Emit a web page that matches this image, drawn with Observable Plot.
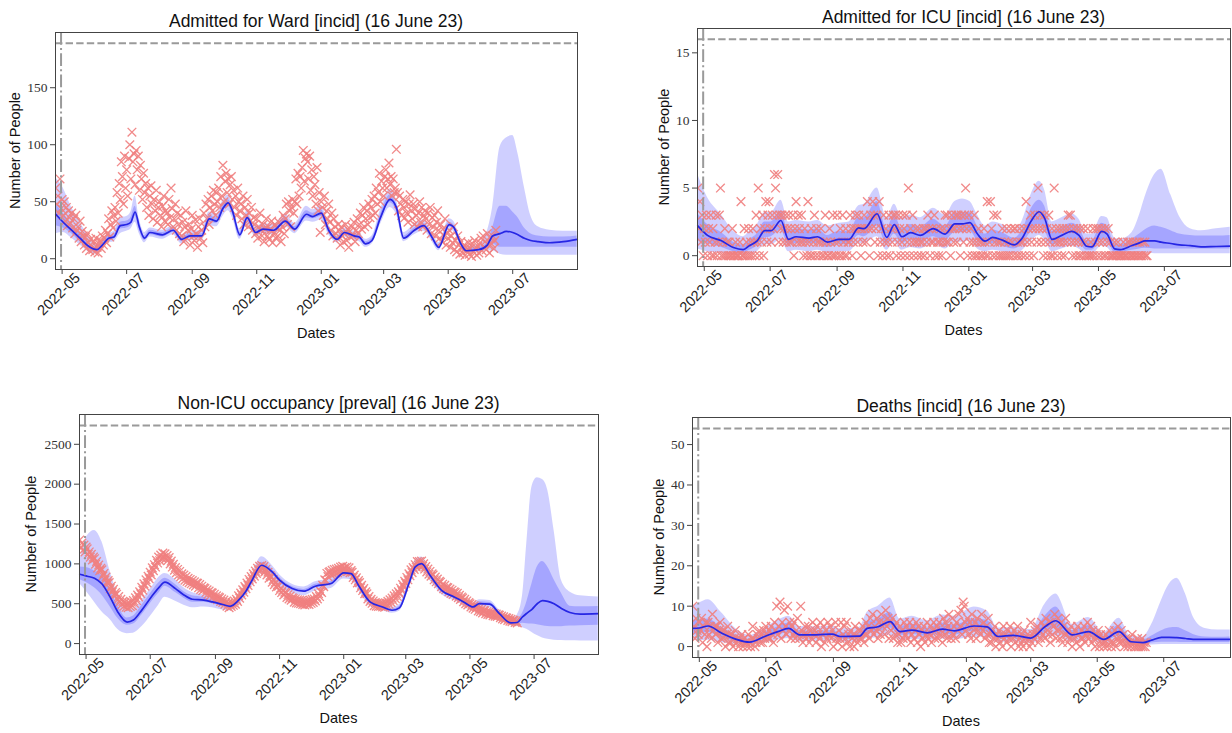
<!DOCTYPE html>
<html>
<head>
<meta charset="utf-8">
<script src="https://cdn.jsdelivr.net/npm/d3@7"></script>
<script src="https://cdn.jsdelivr.net/npm/@observablehq/plot@0.6"></script>
<style>
  html, body { margin: 0; padding: 0; background: #fff; }
  body { width: 1232px; height: 733px; position: relative; overflow: hidden; }
  .panel { position: absolute; }
</style>
</head>
<body>
<div id="p1" class="panel" style="left:0px;top:0px"></div>
<div id="p2" class="panel" style="left:616px;top:0px"></div>
<div id="p3" class="panel" style="left:0px;top:366px"></div>
<div id="p4" class="panel" style="left:616px;top:366px"></div>
<script>
// ---------------- shared axis data ----------------
const obsStart = "2022-04-25";          // first observed day (daily series)
const interventionDate = "2022-04-30";  // vertical dash-dot line
const xDomainDates = ["2022-04-24T18:00Z", "2023-08-31T06:00Z"];
const xTickDates = ["2022-05-01","2022-07-01","2022-09-01","2022-11-01","2023-01-01","2023-03-01","2023-05-01","2023-07-01"];
const xTickLabels = ["2022-05","2022-07","2022-09","2022-11","2023-01","2023-03","2023-05","2023-07"];

// ---------------- Admitted for Ward ----------------
const wardCap = 189;
const wardYTicks = [0, 50, 100, 150];
const wardObs = [
62,48,55,40,70,44,52, 38,50,33,45,29,42,36, 31,40,27,35,22,38,25, 28,18,33,15,24,20,12,
19,9,22,14,7,17,11, 8,15,6,18,10,5,13, 16,9,20,12,18,25,14, 22,35,19,30,42,27,38,
45,33,58,40,66,52,85, 72,48,90,62,78,55,88, 100,70,111,85,92,65,95, 78,90,60,82,70,52,75,
58,66,45,62,38,55,64, 48,35,52,42,60,32,45, 50,38,28,46,55,33,42, 40,30,52,36,62,44,28,
35,48,25,40,30,22,38, 20,32,15,28,42,18,25, 30,12,26,38,20,16,34, 22,10,28,35,18,25,14,
40,28,48,35,52,30,45, 55,42,60,48,38,58,50, 62,45,72,55,82,50,68, 75,58,70,48,65,72,52,
60,45,55,38,62,50,42, 48,35,55,30,45,38,52, 28,40,33,45,25,36,30, 22,35,18,28,40,25,20,
30,15,26,35,20,28,17, 25,33,14,22,30,18,27, 20,32,25,15,28,38,22, 35,48,30,50,42,28,45,
52,40,50,70,48,75,55, 72,62,80,95,68,88,92, 85,70,90,60,78,55,72, 65,48,80,42,58,23,50,
45,38,55,30,42,35,48, 32,25,40,20,35,28,22, 18,30,25,12,28,20,15, 22,30,16,26,10,24,19,
28,20,32,15,25,35,22, 30,40,26,38,45,28,35, 42,30,48,36,45,52,38, 55,40,62,48,58,75,50,
68,62,55,72,78,62,70, 84,65,72,55,70,58,62, 96,58,42,55,48,38,52, 45,36,50,40,32,48,56,
42,35,48,30,44,38,28, 40,50,32,45,28,38,42, 35,25,40,30,45,22,36, 28,38,20,32,42,25,18,
30,15,26,20,35,12,22, 18,25,10,20,14,28,8, 16,6,20,12,4,15,9, 5,12,3,10,7,14,4,
9,2,13,6,16,8,3, 11,5,14,18,7,20,10, 15,8,22,12,5,18,13, 20,9,16,25];
const wardDates = ["2022-04-25","2022-05-02","2022-05-10","2022-05-18","2022-05-26","2022-06-03","2022-06-08","2022-06-14","2022-06-19","2022-06-25",
"2022-07-01","2022-07-05","2022-07-09","2022-07-13","2022-07-18","2022-07-23","2022-08-04","2022-08-14","2022-08-22","2022-08-30",
"2022-09-10","2022-09-17","2022-09-24","2022-09-30","2022-10-05","2022-10-09","2022-10-16","2022-10-23","2022-10-31","2022-11-07",
"2022-11-17","2022-11-28","2022-12-07","2022-12-18","2022-12-24","2023-01-01","2023-01-08","2023-01-16","2023-01-23","2023-02-01",
"2023-02-06","2023-02-12","2023-02-18","2023-02-26","2023-03-07","2023-03-13","2023-03-20","2023-03-30","2023-04-08","2023-04-15",
"2023-04-22","2023-05-02","2023-05-06","2023-05-13","2023-05-18","2023-05-30","2023-06-07","2023-06-12","2023-06-19","2023-06-25",
"2023-07-01","2023-07-06","2023-07-12","2023-07-18","2023-07-25","2023-08-05","2023-08-18","2023-08-31"];
const wardMed  = [39,32,25,18,11,8,12,18,19,29, 30,32,41,28,18,23,21,25,17,20, 20,35,33,44,49,42,21,36,23,26, 25,33,26,39,37,40,25,17,23,20, 19,13,16,36,52,45,18,25,29,20, 10,30,28,13,7,8,12,20,22,24, 23,21,18,16,15,14,15,17];
const wardLo90 = [22,23,18,12,6,4,8,14,15,22, 24,26,32,22,14,19,17,21,13,16, 16,29,28,37,42,36,17,30,19,22, 21,28,22,33,32,34,21,14,19,16, 15,10,13,30,45,39,15,21,24,16, 7,25,24,10,5,5,7,7,4,3, 3,3,3,3,3,3,3,3];
const wardLo50 = [29,27,22,15,9,6,10,16,17,26, 27,29,37,25,16,21,19,23,15,18, 18,32,31,41,46,39,19,33,21,24, 23,31,24,36,35,37,23,16,21,18, 17,12,15,33,49,42,17,23,27,18, 9,28,26,12,6,7,10,13,10,10, 10,10,10,10,10,10,10,10];
const wardHi50 = [48,40,30,22,14,10,14,20,21,32, 33,36,46,31,20,25,23,27,19,22, 22,38,36,47,52,45,23,39,25,28, 27,36,28,42,40,43,27,19,25,22, 21,15,18,39,56,48,20,27,31,22, 12,32,30,15,9,10,14,27,46,46, 41,36,27,22,20,19,19,20];
const wardHi90 = [71,62,45,32,20,13,16,22,24,36, 37,41,55,35,23,27,25,29,21,24, 25,41,39,51,56,48,26,42,28,31, 30,39,31,46,43,47,30,21,27,24, 23,17,20,43,61,52,23,30,34,25, 14,35,33,17,11,12,24,45,98,106, 108,92,63,38,28,25,24,24];

// ---------------- Admitted for ICU ----------------
const icuCap = 16;
const icuYTicks = [0, 5, 10, 15];
const icuObs = [
5,2,4,1,3,0,2, 1,3,0,2,1,3,0, 2,0,1,3,0,1,3, 5,0,1,0,2,0,1, 0,1,0,0,2,0,0, 1,0,0,0,1,4,0,
0,2,0,1,0,2,0, 1,0,2,1,0,3,1, 5,0,2,1,3,0,2, 4,1,3,4,2,1,3, 2,6,5,3,6,1,3, 2,3,1,2,3,1,2,
3,1,2,1,3,0,2, 4,1,3,2,1,3,1, 0,2,1,0,4,1,0, 2,0,1,3,0,2,1, 0,1,2,0,1,0,3, 1,0,0,2,1,0,3,
0,1,0,3,1,0,2, 0,3,1,0,2,0,1, 1,3,2,0,1,2,3, 2,1,3,2,0,2,1, 3,2,1,4,2,0,3, 2,4,3,1,2,3,0,
4,1,2,0,3,1,2, 0,1,3,0,2,1,3, 2,3,0,1,3,2,0, 1,3,2,0,3,1,5, 0,2,1,3,0,1,2, 1,0,2,1,0,1,2,
0,2,1,3,2,0,1, 2,1,3,0,2,1,0, 1,2,0,1,2,3,1, 3,1,2,0,3,2,1, 2,3,1,3,2,0,3, 2,1,3,5,2,0,3,
1,2,0,1,3,0,1, 0,2,1,0,1,0,2, 1,0,4,0,1,4,2, 0,3,1,0,3,1,0, 1,0,2,0,1,0,2, 0,1,0,2,1,0,2,
2,0,1,0,2,1,0, 1,2,0,4,1,2,0, 3,1,2,0,3,2,1, 5,2,3,1,2,0,3, 1,2,0,3,1,0,2, 0,5,1,2,0,1,2,
1,0,2,1,0,2,1, 3,2,3,1,0,2,1, 0,2,1,0,2,0,1, 2,0,1,0,2,0,0, 1,0,2,0,1,2,0, 2,1,0,2,1,0,2,
0,1,2,0,1,0,0, 0,1,0,0,1,0,0, 0,0,1,0,0,0,1, 0,1,0,0,1,0,0, 1,0,0,1,0,0,1, 0,1,0,0];
const icuDates = ["2022-04-25","2022-05-04","2022-05-17","2022-05-28","2022-06-06","2022-06-12","2022-06-19","2022-06-26","2022-07-02","2022-07-11",
"2022-07-18","2022-07-25","2022-08-06","2022-08-14","2022-08-23","2022-09-03","2022-09-12","2022-09-21","2022-09-26","2022-10-08",
"2022-10-17","2022-10-24","2022-10-31","2022-11-08","2022-11-17","2022-11-29","2022-12-10","2022-12-19","2022-12-26","2023-01-02",
"2023-01-09","2023-01-16","2023-01-23","2023-02-01","2023-02-12","2023-02-19","2023-02-28","2023-03-07","2023-03-12","2023-03-19",
"2023-03-28","2023-04-06","2023-04-13","2023-04-20","2023-04-25","2023-05-04","2023-05-09","2023-05-16","2023-05-21","2023-06-01",
"2023-06-08","2023-06-13","2023-06-22","2023-06-28","2023-07-07","2023-07-15","2023-07-25","2023-08-04","2023-08-18","2023-08-31"];
const icuMed  = [2.2,1.5,1.1,0.6,0.45,0.75,1.1,1.85,1.85,2.6, 1.2,1.4,1.3,1.4,1.0,1.2,1.2,2.05,2.0,3.1, 1.35,2.3,1.4,1.7,1.5,2.0,1.6,2.35,2.35,2.45, 1.6,1.07,1.35,1.15,0.8,1.25,2.6,3.25,2.8,1.2, 1.5,1.8,1.5,0.7,0.65,1.8,1.6,0.5,0.45,0.75, 0.95,1.1,1.1,1.0,0.9,0.8,0.75,0.65,0.68,0.7];
const icuLo90 = [0.5,0.3,0.2,0.05,0.05,0.1,0.3,0.8,0.8,1.2, 0.3,0.4,0.3,0.4,0.2,0.3,0.3,0.9,0.9,1.4, 0.4,1.0,0.4,0.6,0.5,0.9,0.5,1.0,1.0,1.1, 0.5,0.3,0.4,0.3,0.15,0.35,1.1,1.5,1.2,0.3, 0.5,0.7,0.5,0.1,0.1,0.7,0.6,0.05,0.05,0.1, 0.2,0.2,0.15,0.15,0.15,0.15,0.15,0.15,0.15,0.15];
const icuLo50 = [1.1,0.9,0.6,0.3,0.2,0.4,0.7,1.3,1.4,1.9, 0.8,0.9,0.9,0.9,0.6,0.8,0.8,1.5,1.4,2.2, 0.9,1.6,0.9,1.2,1.0,1.4,1.1,1.7,1.7,1.8, 1.1,0.7,0.9,0.7,0.5,0.8,1.8,2.3,1.9,0.8, 1.0,1.2,1.0,0.4,0.4,1.2,1.1,0.25,0.25,0.4, 0.5,0.55,0.5,0.5,0.5,0.5,0.5,0.5,0.5,0.5];
const icuHi50 = [3.1,2.3,1.7,1.0,0.8,1.2,1.6,2.5,2.5,3.3, 1.8,2.0,1.9,2.0,1.5,1.8,1.8,2.8,2.8,4.0, 2.0,3.0,2.0,2.3,2.1,2.7,2.2,3.1,3.2,3.2, 2.2,1.6,1.9,1.7,1.3,1.8,3.5,4.1,3.7,1.8, 2.1,2.4,2.1,1.1,1.1,2.4,2.2,0.9,0.8,1.2, 1.6,1.9,2.2,2.1,1.85,1.6,1.5,1.45,1.45,1.5];
const icuHi90 = [6.0,4.3,3.0,1.8,1.4,1.8,2.3,3.2,3.2,4.1, 2.5,2.6,2.5,2.6,2.2,2.4,2.5,3.7,3.8,5.0, 2.8,3.8,2.8,3.0,2.8,3.5,3.0,4.0,4.2,4.0, 3.0,2.2,2.5,2.3,1.8,2.5,4.6,5.5,4.9,2.5, 2.8,3.1,2.7,1.6,1.6,2.9,2.8,1.3,1.2,1.7, 3.0,4.3,6.0,6.4,4.5,2.9,2.0,1.85,2.0,2.1];

// ---------------- Non-ICU occupancy ----------------
const occCap = 2737;
const occYTicks = [0, 500, 1000, 1500, 2000, 2500];
const occObs = [
1300,1210,1260,1170,1235,1150,1210, 1190,1120,1150,1085,1120,1050,1085, 1065,995,1030,950,985,915,945,
925,850,880,800,835,760,790, 765,690,720,650,680,605,640, 620,550,590,520,555,490,530,
470,515,455,495,450,510,465, 520,475,540,505,575,540,610, 585,650,625,705,670,750,720,
800,760,845,815,895,860,950, 915,990,960,1045,1010,1085,1040, 1110,1070,1135,1080,1125,1065,1105,
1045,1080,1000,1035,960,995,920, 955,890,930,860,905,840,875, 815,860,795,840,780,820,765,
805,750,790,735,775,720,760, 755,700,740,680,720,665,700, 690,640,675,620,660,600,640,
635,585,620,565,600,550,585, 575,530,560,515,545,495,525, 470,505,450,490,465,515,480,
535,495,555,530,600,570,635, 610,675,645,715,690,760,730, 805,775,840,810,875,845,910,
880,945,915,970,925,980,940, 965,900,930,860,895,820,855, 835,770,805,740,770,710,740,
720,665,695,640,670,610,645, 635,580,615,560,595,545,575, 565,520,560,510,550,505,545,
500,540,490,530,485,525,495, 530,490,545,505,555,515,560, 535,590,560,625,590,655,640,
730,715,800,790,880,840,895, 905,860,920,875,930,885,935, 890,945,905,960,915,970,925,
955,910,960,905,950,890,915, 895,830,860,800,825,760,790, 765,700,730,665,690,625,650,
625,560,590,530,555,505,535, 475,515,470,510,465,505,470, 505,460,500,455,510,480,530,
495,550,515,570,540,600,565, 625,590,650,625,695,665,740, 710,780,755,830,800,875,850,
925,890,955,930,990,960,1030, 985,1030,990,1035,970,1000,935, 965,900,935,870,905,845,875,
860,800,835,775,810,750,780, 770,715,745,690,730,675,705, 700,650,685,630,670,615,650,
640,595,630,575,605,555,585, 570,525,555,500,535,485,515, 500,460,490,445,475,430,460,
455,410,445,400,430,385,415, 410,375,400,365,395,360,385, 380,350,375,345,370,340,360,
355,325,345,310,335,300,325, 320,290,315,280,305,275,295, 290,265,285,260];
const occDates = ["2022-04-25","2022-05-02","2022-05-09","2022-05-16","2022-05-24","2022-05-31","2022-06-09","2022-06-15","2022-06-23","2022-07-02",
"2022-07-09","2022-07-15","2022-07-25","2022-08-02","2022-08-10","2022-08-21","2022-08-29","2022-09-08","2022-09-15","2022-09-23",
"2022-09-30","2022-10-05","2022-10-15","2022-10-25","2022-11-01","2022-11-13","2022-11-24","2022-12-05","2022-12-20","2023-01-01",
"2023-01-08","2023-01-15","2023-01-26","2023-02-07","2023-02-16","2023-02-23","2023-03-04","2023-03-10","2023-03-16","2023-03-24",
"2023-04-04","2023-04-16","2023-04-25","2023-05-04","2023-05-10","2023-05-20","2023-05-29","2023-06-09","2023-06-15","2023-06-20",
"2023-06-24","2023-06-29","2023-07-04","2023-07-09","2023-07-14","2023-07-20","2023-07-27","2023-08-04","2023-08-14","2023-08-31"];
const occMed  = [870,845,820,750,580,400,270,295,420,585, 700,770,690,610,556,545,523,490,468,544, 657,774,983,900,795,690,657,720,753,887, 878,732,523,460,418,448,753,962,1004,857, 669,585,523,460,502,494,376,259,265,335, 380,430,500,540,530,500,440,390,370,376];
const occLo90 = [750,640,520,400,300,180,125,130,210,355, 480,580,530,480,450,460,450,420,410,480, 590,700,880,810,720,630,600,660,690,810, 800,670,475,415,380,405,690,880,920,790, 615,540,480,420,460,450,340,230,215,200, 180,140,100,70,55,42,38,35,34,33];
const occLo50 = [800,760,700,610,460,320,230,245,360,520, 630,720,640,570,520,520,500,470,450,525, 635,750,950,870,770,670,640,700,730,860, 850,710,505,445,405,432,730,935,975,835, 650,570,505,445,485,475,360,245,240,255, 250,245,235,225,215,210,212,220,225,230];
const occHi50 = [960,950,910,850,680,480,320,345,480,640, 760,820,740,650,600,580,550,515,490,565, 680,800,1020,930,825,715,680,745,780,915, 905,760,545,480,435,468,780,995,1035,885, 690,605,545,480,525,515,395,275,300,380, 520,750,960,1030,960,800,630,470,462,465];
const occHi90 = [1040,1350,1420,1280,900,620,420,430,545,700, 830,880,800,700,640,610,580,545,515,595, 715,840,1090,980,865,745,710,775,815,955, 945,790,570,505,455,490,815,1045,1085,925, 720,630,570,505,550,540,420,300,360,600, 1250,1966,2080,2060,1924,1422,795,648,600,585];

// ---------------- Deaths ----------------
const deathCap = 54;
const deathYTicks = [0, 10, 20, 30, 40, 50];
const deathObs = [
10,5,2,7,4,3,6, 4,7,1,5,3,6,0, 6,3,5,2,8,4,5, 3,5,1,4,6,2,4, 2,4,0,3,5,1,3, 1,3,0,2,4,1,2,
0,2,1,3,0,2,1, 1,0,3,1,0,2,5, 2,0,1,3,2,4,1, 3,1,4,2,5,3,2, 4,2,5,3,1,6,4, 10,3,5,11,2,6,4,
9,5,3,10,4,6,2, 5,3,6,2,4,7,3, 2,10,4,1,3,5,2, 3,5,1,4,2,6,3, 4,1,5,3,2,6,0, 3,5,1,4,2,6,3,
5,2,4,0,3,6,2, 1,4,2,6,0,3,5, 2,6,1,3,0,4,2, 3,0,5,2,1,4,2, 4,2,5,1,3,6,3, 5,2,7,4,8,3,5,
4,7,2,6,3,8,5, 6,3,9,5,7,2,6, 4,7,2,5,3,6,1, 3,5,1,4,2,6,3, 5,2,4,6,1,3,5, 2,4,6,1,5,3,0,
4,2,5,1,3,6,2, 3,5,1,4,6,2,4, 5,2,6,3,4,1,7, 3,6,2,5,8,4,2, 7,3,5,2,6,4,8, 5,9,3,11,10,6,4,
7,3,6,2,8,5,4, 6,2,7,4,5,3,8, 4,6,2,5,3,7,1, 3,1,4,2,5,0,3, 2,4,1,3,0,5,2, 3,1,4,2,5,0,3,
2,4,1,3,5,0,2, 1,3,0,4,2,1,3, 2,0,6,1,3,2,4, 3,5,1,4,2,6,3, 5,2,7,4,3,6,1, 6,3,5,8,2,4,7,
4,2,6,1,5,3,7, 3,1,4,2,5,0,3, 2,4,1,5,3,0,2, 4,2,5,1,3,6,2, 3,5,1,4,2,0,3, 2,4,0,3,1,2,0,
1,3,0,2,4,1,0, 3,1,4,0,2,5,1, 2,4,1,3,0,2,1, 0,2,1,0,3,1,0, 1,0,2,0,1,0,2, 0,1,0,1];
const deathDates = ["2022-04-25","2022-05-01","2022-05-09","2022-05-21","2022-06-04","2022-06-16","2022-06-30","2022-07-12","2022-07-22","2022-08-01",
"2022-08-16","2022-08-31","2022-09-07","2022-09-25","2022-10-02","2022-10-12","2022-10-23","2022-11-01","2022-11-12","2022-11-26",
"2022-12-10","2022-12-21","2023-01-08","2023-01-20","2023-01-30","2023-02-13","2023-03-01","2023-03-14","2023-03-24","2023-04-08",
"2023-04-23","2023-05-07","2023-05-21","2023-06-01","2023-06-12","2023-06-20","2023-06-29","2023-07-06","2023-07-13","2023-07-21",
"2023-07-28","2023-08-08","2023-08-20","2023-08-31"];
const deathMed  = [4.5,4.6,5.1,3.4,1.8,1.1,2.5,3.7,4.5,2.9, 2.9,3.1,2.5,2.6,4.5,4.9,6.2,3.7,4.1,3.4, 4.3,3.9,5.1,4.9,2.5,2.8,2.1,4.9,6.4,2.9, 3.7,1.8,3.7,1.2,1.0,1.6,2.3,2.3,2.2,2.0, 1.8,1.8,1.8,1.8];
const deathLo90 = [1.5,1.5,1.6,1.0,0.5,0.3,0.9,1.6,2.0,1.2, 1.3,1.4,1.1,1.1,2.0,2.2,2.8,1.6,1.8,1.5, 1.9,1.7,2.3,2.2,1.0,1.2,0.8,2.0,2.6,1.2, 1.5,0.7,1.4,0.4,0.3,0.4,0.5,0.5,0.5,0.5, 0.5,0.5,0.5,0.5];
const deathLo50 = [3.0,3.2,3.5,2.3,1.2,0.7,1.8,2.8,3.4,2.1, 2.2,2.3,1.9,1.9,3.3,3.6,4.6,2.8,3.0,2.5, 3.2,2.9,3.8,3.6,1.8,2.0,1.5,3.5,4.6,2.1, 2.6,1.3,2.5,0.8,0.7,0.9,1.1,1.1,1.1,1.0, 1.0,1.0,1.0,1.0];
const deathHi50 = [6.5,6.5,6.8,4.8,2.8,1.8,3.5,4.9,5.8,3.9, 3.8,4.0,3.4,3.5,6.0,6.8,8.5,5.0,5.5,4.6, 5.8,5.3,6.8,6.5,3.4,3.7,3.0,7.5,9.8,4.0, 5.2,2.6,5.3,1.8,1.6,2.6,3.9,4.6,4.7,3.9, 3.0,2.4,2.3,2.4];
const deathHi90 = [10.0,10.8,11.6,8.5,4.3,2.8,4.6,6.5,7.5,5.0, 4.9,5.1,4.4,4.8,8.5,10.0,12.0,6.8,7.5,6.4, 7.8,7.5,9.8,8.8,4.6,4.8,4.2,10.5,13.0,5.5, 7.2,3.5,7.0,2.5,2.4,5.5,11.5,15.4,16.9,13.0, 7.4,4.5,4.1,4.1];

// ---------------- panel definitions ----------------
const panels = [
  {id: "p1", width: 616, height: 366, frame: [55, 32, 577, 269], cap: wardCap, yTicks: wardYTicks, ylabOff: 35,
   title: "Admitted for Ward [incid] (16 June 23)", obs: wardObs,
   model: {dates: wardDates, med: wardMed, lo90: wardLo90, lo50: wardLo50, hi50: wardHi50, hi90: wardHi90}},
  {id: "p2", width: 616, height: 366, frame: [81, 28, 614, 266], cap: icuCap, yTicks: icuYTicks, ylabOff: 28,
   title: "Admitted for ICU [incid] (16 June 23)", obs: icuObs,
   model: {dates: icuDates, med: icuMed, lo90: icuLo90, lo50: icuLo50, hi50: icuHi50, hi90: icuHi90}},
  {id: "p3", width: 616, height: 367, frame: [79, 48, 598, 288], cap: occCap, yTicks: occYTicks, ylabOff: 43,
   title: "Non-ICU occupancy [preval] (16 June 23)", obs: occObs,
   model: {dates: occDates, med: occMed, lo90: occLo90, lo50: occLo50, hi50: occHi50, hi90: occHi90}},
  {id: "p4", width: 616, height: 367, frame: [76, 51, 614, 291], cap: deathCap, yTicks: deathYTicks, ylabOff: 28,
   title: "Deaths [incid] (16 June 23)", obs: deathObs,
   model: {dates: deathDates, med: deathMed, lo90: deathLo90, lo50: deathLo50, hi50: deathHi50, hi90: deathHi90}}
];

const SANS = "'Liberation Sans', Arial, Helvetica, sans-serif";
const SERIF = "'Liberation Serif', 'Times New Roman', serif";
const DAY = 864e5;
const t0 = new Date(obsStart + "T00:00Z").getTime();
const xDomain = xDomainDates.map(d => new Date(d));
const xTicks = xTickDates.map((d, i) => ({date: new Date(d + "T00:00Z"), label: xTickLabels[i]}));

for (const p of panels) {
  const [L, T, R, B] = p.frame;
  const obsData = p.obs.map((v, i) => ({date: new Date(t0 + i * DAY), v}));
  const model = p.model.dates.map((d, i) => ({
    date: new Date(d + "T00:00Z"),
    med: p.model.med[i], lo90: p.model.lo90[i], lo50: p.model.lo50[i],
    hi50: p.model.hi50[i], hi90: p.model.hi90[i]
  }));
  const svg = Plot.plot({
    width: p.width, height: p.height,
    marginLeft: L, marginTop: T, marginRight: p.width - R, marginBottom: p.height - B,
    style: {fontFamily: SANS, background: "white", color: "#333", overflow: "visible"},
    x: {type: "utc", domain: xDomain},
    y: {domain: [-0.05 * p.cap, 1.05 * p.cap]},
    marks: [
      Plot.areaY(model, {x: "date", y1: "lo90", y2: "hi90", fill: "#0000ff", fillOpacity: 0.19, curve: "monotone-x"}),
      Plot.areaY(model, {x: "date", y1: "lo50", y2: "hi50", fill: "#0000ff", fillOpacity: 0.2, curve: "monotone-x"}),
      Plot.dot(obsData, {x: "date", y: "v", symbol: "times", r: 4, stroke: "#f08080", strokeOpacity: 0.92, strokeWidth: 1.35, clip: true}),
      Plot.line(model, {x: "date", y: "med", stroke: "#2626e4", strokeWidth: 1.7, curve: "monotone-x"}),
      Plot.ruleY([p.cap], {stroke: "#9a9a9a", strokeWidth: 2, strokeDasharray: "7.4,3.2"}),
      Plot.ruleX([new Date(interventionDate + "T00:00Z")], {stroke: "#9a9a9a", strokeWidth: 2, strokeDasharray: "12.8,3.2,2,3.2"}),
      Plot.frame({stroke: "#444", strokeWidth: 1}),
      Plot.axisY({ticks: p.yTicks, tickSize: 5, tickPadding: 3, tickFormat: d => String(d), fontFamily: SERIF, fontSize: 13.5, fill: "#333", stroke: "#444", label: null}),
      Plot.axisX({ticks: xTicks.map(d => d.date), tickSize: 5, tickFormat: () => "", stroke: "#444", label: null}),
      Plot.text(xTicks, {x: "date", text: "label", frameAnchor: "bottom", dy: 28, rotate: -45, textAnchor: "middle", fontSize: 14.5, fill: "#222"})
    ]
  });
  const s = d3.select(svg);
  s.append("text").attr("x", (L + R) / 2).attr("y", T - 5).attr("text-anchor", "middle")
    .attr("font-size", 17.5).attr("fill", "#111").attr("font-family", SANS).text(p.title);
  s.append("text").attr("x", (L + R) / 2).attr("y", B + 69).attr("text-anchor", "middle")
    .attr("font-size", 14.5).attr("fill", "#111").attr("font-family", SANS).text("Dates");
  s.append("text").attr("transform", `translate(${L - p.ylabOff},${(T + B) / 2}) rotate(-90)`)
    .attr("text-anchor", "middle").attr("font-size", 14.5).attr("fill", "#111").attr("font-family", SANS)
    .text("Number of People");
  document.getElementById(p.id).appendChild(svg);
}
</script>
</body>
</html>
